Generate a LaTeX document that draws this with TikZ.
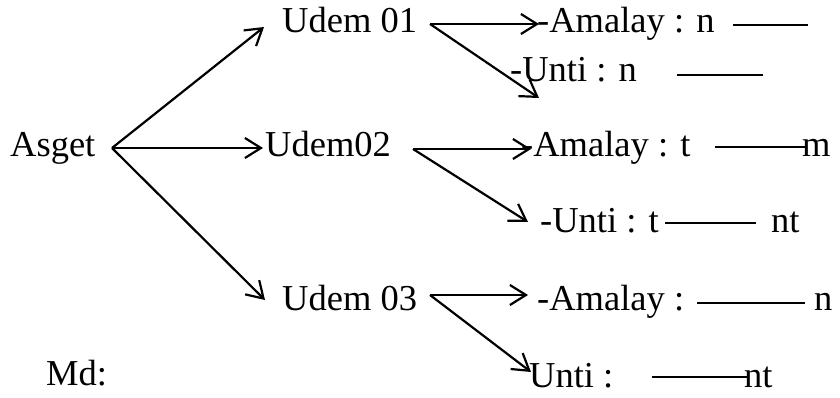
\documentclass[tikz,border=0pt]{standalone}
\usepackage{fontspec}
\setmainfont{Liberation Serif}
\usetikzlibrary{arrows.meta}
\begin{document}
\begin{tikzpicture}[x=1pt,y=-1pt,
  lbl/.style={anchor=base west,inner sep=0pt,font=\fontsize{36.5}{40}\selectfont},
  arr/.style={line width=2.2pt,-{Straight Barb[length=16pt,width=20pt,line width=2.2pt]}},
  rule/.style={line width=2pt}]
\useasboundingbox (0,0) rectangle (840,398);
% text nodes
\node[lbl] (asget) at (10,157) {Asget};
\node[lbl] (u1) at (282,33) {Udem 01};
\node[lbl] (u2) at (265,157) {Udem02};
\node[lbl] (u3) at (282,310) {Udem 03};
\node[lbl] (md) at (46,385) {Md:};
\node[lbl] (a1) at (537,33) {-Amalay : n};
\node[lbl] (n1) at (510,82) {-Unti : n};
\node[lbl] (a2) at (521,157) {-Amalay : t};
\node[lbl] (m2) at (802,157) {m};
\node[lbl] (n2) at (540,233) {-Unti : t};
\node[lbl] (t2) at (771,233) {nt};
\node[lbl] (a3) at (537,310) {-Amalay :};
\node[lbl] (e3) at (814,310) {n};
\node[lbl] (n3) at (529,387) {Unti :};
\node[lbl] (t3) at (744,387) {nt};
% branch points and tips
\coordinate (s0) at (112,148);
\coordinate (t01) at (264,27);
\coordinate (t02) at (263,148);
\coordinate (t03) at (265,300);
\coordinate (s1) at (430,24);
\coordinate (ta1) at (539,24);
\coordinate (tn1) at (539,98);
\coordinate (s2) at (413,149);
\coordinate (ta2) at (531,149);
\coordinate (tn2) at (528,222);
\coordinate (s3) at (430,295);
\coordinate (ta3) at (528,295);
\coordinate (tn3) at (531,372);
% arrows
\draw[arr] (s0) -- (t01);
\draw[arr] (s0) -- (t02);
\draw[arr] (s0) -- (t03);
\draw[arr] (s1) -- (ta1);
\draw[arr] (s1) -- (tn1);
\draw[arr] (s2) -- (ta2);
\draw[arr] (s2) -- (tn2);
\draw[arr] (s3) -- (ta3);
\draw[arr] (s3) -- (tn3);
% rules
\coordinate (r1a) at (733,25); \coordinate (r1b) at (808,25);
\coordinate (r2a) at (677,75); \coordinate (r2b) at (763,75);
\coordinate (r3a) at (715,147); \coordinate (r3b) at (806,147);
\coordinate (r4a) at (665,223); \coordinate (r4b) at (756,223);
\coordinate (r5a) at (697,303); \coordinate (r5b) at (805,303);
\coordinate (r6a) at (652,377); \coordinate (r6b) at (748,377);
\draw[rule] (r1a) -- (r1b);
\draw[rule] (r2a) -- (r2b);
\draw[rule] (r3a) -- (r3b);
\draw[rule] (r4a) -- (r4b);
\draw[rule] (r5a) -- (r5b);
\draw[rule] (r6a) -- (r6b);
\end{tikzpicture}
\end{document}
